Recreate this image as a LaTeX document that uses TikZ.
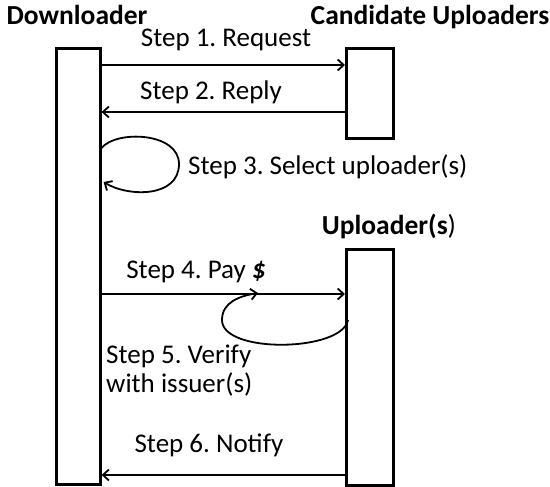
\documentclass[tikz,border=0pt]{standalone}
\usepackage{fontspec}
\setmainfont{Carlito}
\usetikzlibrary{arrows.meta}
\begin{document}
\frenchspacing
\begin{tikzpicture}[x=1pt,y=1pt,
  life/.style={draw,line width=2.6pt,fill=white,inner sep=0,minimum width=#1},
  msg/.style={line width=1.8pt,-{Straight Barb[length=6pt,width=11pt,line width=1.8pt]}},
  lbl/.style={font=\fontsize{27}{32}\selectfont,inner sep=0,anchor=base},
  ttl/.style={font=\bfseries\fontsize{27.5}{32}\selectfont,inner sep=0,anchor=base}]
\useasboundingbox (0,0) rectangle (550,-487);
\node[life=44pt,minimum height=436pt,anchor=north west] (d) at (55,-47) {};
\node[life=47pt,minimum height=90pt,anchor=north west] (c) at (345,-47) {};
\node[life=47pt,minimum height=236pt,anchor=north west] (u) at (345,-248) {};
\node[ttl] (td) at (77,-25) {Downloader};
\node[ttl] (tc) at (430,-25) {Candidate Uploaders};
\node[ttl] (tu) at (389,-234) {Uploader(s\textmd{)}};
% step 1
\draw[msg] (d.east |- 0,-65) -- (c.west |- 0,-65);
\node[lbl] (l1) at (226,-47) {Step 1. Request};
% step 2
\draw[msg,line width=1.5pt] (c.west |- 0,-112) -- (d.east |- 0,-112);
\node[lbl] (l2) at (211,-100) {Step 2. Reply};
% step 3
\coordinate (s3a) at (d.east |- 0,-148);
\coordinate (s3b) at ([xshift=2pt]d.east |- 0,-182);
\draw[msg] (s3a) .. controls (116,-130) and (179,-132) .. (179,-164) .. controls (179,-198) and (128,-197) .. (s3b);
\node[lbl,anchor=base west] (l3) at (188,-175) {Step 3. Select uploader(s)};
% step 4
\draw[msg] (d.east |- 0,-294) -- (u.west |- 0,-294);
\node[lbl] (l4) at (196,-279) {Step 4. Pay \textbf{\textit{\$}}};
% step 5
\coordinate (s5a) at ([xshift=3pt]u.west |- 0,-320);
\coordinate (s5b) at (258,-293);
\draw[msg] (s5a) .. controls (342,-352) and (222,-354) .. (222,-320) .. controls (222,-302) and (240,-296) .. (s5b);
\node[lbl,anchor=base west] (l5a) at (106,-363) {Step 5. Verify};
\node[lbl,anchor=base west] (l5b) at (106,-392) {with issuer(s)};
% step 6
\draw[msg] (u.west |- 0,-475) -- (d.east |- 0,-475);
\node[lbl] (l6) at (209,-452) {Step 6. Notify};
\end{tikzpicture}
\end{document}
